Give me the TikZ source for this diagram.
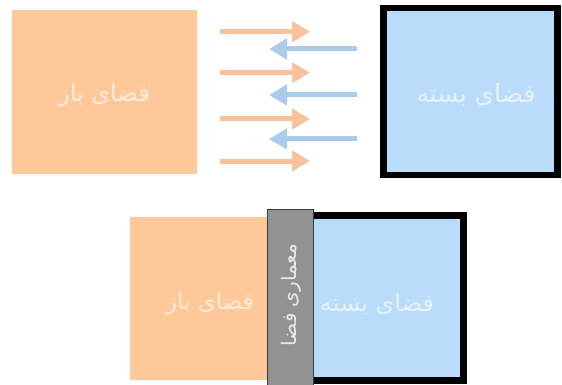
\documentclass[tikz,border=0pt]{standalone}
\usepackage{fontspec}
\newfontfamily\arabicfont[Script=Arabic]{DejaVu Sans}
\TeXXeTstate=1
\usetikzlibrary{arrows.meta}
\definecolor{peach}{HTML}{FFC898}
\definecolor{skyfill}{HTML}{B8DCFA}
\definecolor{panelgray}{HTML}{929292}
\definecolor{paneledge}{HTML}{3A3A3A}
\definecolor{arrorange}{HTML}{F7C29C}
\definecolor{arrblue}{HTML}{AACBEA}
\tikzset{
  openbox/.style={rectangle, inner sep=0pt, fill=peach},
  closedbox/.style={rectangle, inner sep=0pt, fill=skyfill, draw=black, line width=6.5pt},
  panelbox/.style={rectangle, inner sep=0pt, fill=panelgray, draw=paneledge, line width=1pt},
  lbl/.style={text=white, text opacity=0.65, inner sep=0pt},
  flowarrow/.style={line width=5pt, -{Triangle[length=18pt 0,width=20pt 0]}},
}
\begin{document}
\begin{tikzpicture}[x=1pt,y=-1pt]
\useasboundingbox (0,0) rectangle (562,385);
\clip (0,0) rectangle (562,385);
\fill[white] (0,0) rectangle (562,385);

% top row
\node[openbox, minimum width=185pt, minimum height=164pt] (open1) at (104.5,92) {};
\node[closedbox, minimum width=173.75pt, minimum height=166.5pt] (closed1) at (470.6,91.5) {};
\node[lbl, font=\arabicfont\fontsize{24}{28}\selectfont] (openlbl1) at (104,95) {\beginR فضای باز\endR};
\node[lbl, font=\arabicfont\fontsize{25}{29}\selectfont] (closedlbl1) at (476,95) {\beginR فضای بسته\endR};

% arrows
\coordinate (oa1) at (220,31.7); \coordinate (ob1) at (310,31.7);
\coordinate (oa2) at (220,72.7); \coordinate (ob2) at (310,72.7);
\coordinate (oa3) at (220,119);  \coordinate (ob3) at (310,119);
\coordinate (oa4) at (220,161);  \coordinate (ob4) at (310,161);
\coordinate (ba1) at (357,49);   \coordinate (bb1) at (269,49);
\coordinate (ba2) at (357,95);   \coordinate (bb2) at (269,95);
\coordinate (ba3) at (357,139);  \coordinate (bb3) at (269,139);
\foreach \i in {1,2,3,4} \draw[flowarrow, draw=arrorange, fill=arrorange] (oa\i) -- (ob\i);
\foreach \i in {1,2,3} \draw[flowarrow, draw=arrblue, fill=arrblue] (ba\i) -- (bb\i);

% bottom row
\node[openbox, minimum width=145pt, minimum height=163pt] (open2) at (202.5,298.5) {};
\node[closedbox, line width=7pt, minimum width=183.5pt, minimum height=164.5pt] (closed2) at (371.75,297.75) {};
\node[panelbox, minimum width=46pt, minimum height=186pt] (panel) at (290,302) {};
\node[lbl, font=\arabicfont\fontsize{23}{27}\selectfont] (openlbl2) at (210,304) {\beginR فضای باز\endR};
\node[lbl, font=\arabicfont\fontsize{24}{28}\selectfont] (closedlbl2) at (377,304) {\beginR فضای بسته\endR};
\node[lbl, text opacity=0.8, rotate=90, font=\arabicfont\fontsize{20}{24}\selectfont] (panellbl) at (291,295) {\beginR معماری فضا\endR};
\end{tikzpicture}
\end{document}
